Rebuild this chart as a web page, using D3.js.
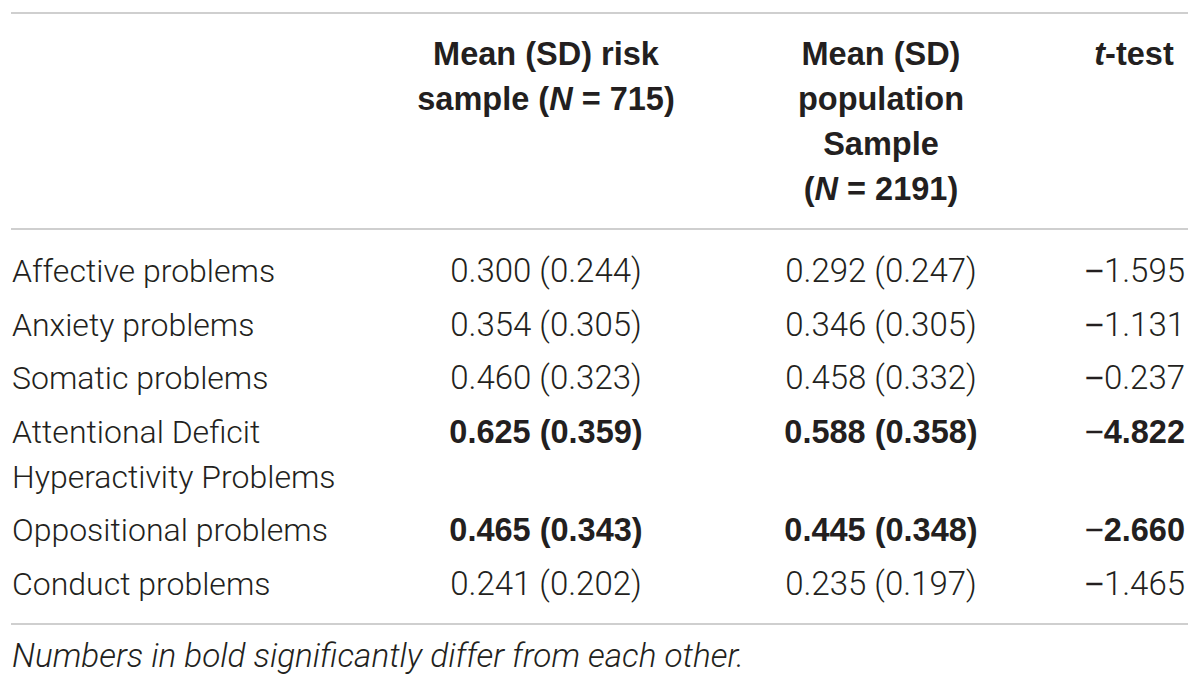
<!DOCTYPE html>
<html>
<head>
<meta charset="utf-8">
<script src="https://cdn.jsdelivr.net/npm/d3@7"></script>
<style>
  body { margin: 0; background: #fff; }
  svg { display: block; }
</style>
</head>
<body>
<svg id="table" width="1200" height="687"></svg>
<script>
// table data
const rowLabels = [
  ['Affective problems'],
  ['Anxiety problems'],
  ['Somatic problems'],
  ['Attentional Deficit', 'Hyperactivity Problems'],
  ['Oppositional problems'],
  ['Conduct problems'],
];
const riskMean = [0.300, 0.354, 0.460, 0.625, 0.465, 0.241];
const riskSD = [0.244, 0.305, 0.323, 0.359, 0.343, 0.202];
const popMean = [0.292, 0.346, 0.458, 0.588, 0.445, 0.235];
const popSD = [0.247, 0.305, 0.332, 0.358, 0.348, 0.197];
const tValues = [-1.595, -1.131, -0.237, -4.822, -2.660, -1.465];
const significant = [false, false, false, true, true, false];

// header lines, *...* marks italic
const headRisk = ['Mean (SD) risk', 'sample (*N* = 715)'];
const headPop = ['Mean (SD)', 'population', 'Sample', '(*N* = 2191)'];
const headT = ['*t*-test'];
const footnote = 'Numbers in bold significantly differ from each other.';

const lightFont = "Roboto, 'Liberation Sans', sans-serif";
const boldFont = "'Liberation Sans', Arial, sans-serif";
const labelSize = 32;
const numSize = 33;
const boldSize = 32.5;
const ink = '#231f20';

const svg = d3.select('svg#table');

// column positions
const colX = d3.scaleOrdinal()
  .domain(['label', 'risk', 'pop', 't', 'tHead'])
  .range([12, 546, 881, 1185, 1134]);

// rows: baseline from row index plus wrapped lines above it
const lineStep = 45;
const extraBefore = rowLabels.map((r, i) => d3.sum(rowLabels.slice(0, i), (d) => d.length - 1));
const rowY = d3.scaleLinear().domain([0, 1]).range([282, 335.5]);
const baseline = (i) => rowY(i) + extraBefore[i] * lineStep;

// rules
const rules = [13, 229, 624];
svg.selectAll('line.rule')
  .data(rules)
  .enter()
  .append('line')
  .attr('class', 'rule')
  .attr('x1', 11)
  .attr('x2', 1188)
  .attr('y1', (d) => d)
  .attr('y2', (d) => d)
  .attr('stroke', '#cfcfcf')
  .attr('stroke-width', 2);

// write a string with *italic* pieces as tspans
function richText(sel, str) {
  str.split('*').forEach((part, k) => {
    if (!part) return;
    sel.append('tspan')
      .attr('font-style', k % 2 ? 'italic' : null)
      .text(part);
  });
}

function header(lines, x) {
  lines.forEach((ln, k) => {
    const t = svg.append('text')
      .attr('x', x)
      .attr('y', 65 + k * lineStep)
      .attr('text-anchor', 'middle')
      .attr('font-family', boldFont)
      .attr('font-weight', 'bold')
      .attr('font-size', boldSize)
      .attr('fill', ink);
    richText(t, ln);
  });
}
header(headRisk, colX('risk'));
header(headPop, colX('pop'));
header(headT, colX('tHead'));

// row labels
rowLabels.forEach((lines, i) => {
  lines.forEach((ln, k) => {
    svg.append('text')
      .attr('x', colX('label'))
      .attr('y', baseline(i) + k * lineStep)
      .attr('font-family', lightFont)
      .attr('font-weight', 300)
      .attr('font-size', labelSize)
      .attr('fill', ink)
      .text(ln);
  });
});

const f3 = d3.format('.3f');
const cellFont = (i) => (significant[i] ? boldFont : lightFont);
const cellWeight = (i) => (significant[i] ? 'bold' : 300);
const cellSize = (i) => (significant[i] ? boldSize : numSize);

function meanCol(means, sds, x) {
  svg.append('g')
    .selectAll('text')
    .data(means)
    .enter()
    .append('text')
    .attr('x', x)
    .attr('y', (d, i) => baseline(i))
    .attr('text-anchor', 'middle')
    .attr('font-family', (d, i) => cellFont(i))
    .attr('font-weight', (d, i) => cellWeight(i))
    .attr('font-size', (d, i) => cellSize(i))
    .attr('fill', ink)
    .text((d, i) => `${f3(d)} (${f3(sds[i])})`);
}
meanCol(riskMean, riskSD, colX('risk'));
meanCol(popMean, popSD, colX('pop'));

// t values, minus sign stays thin
const tText = svg.append('g')
  .selectAll('text')
  .data(tValues)
  .enter()
  .append('text')
  .attr('x', colX('t'))
  .attr('y', (d, i) => baseline(i))
  .attr('text-anchor', 'end')
  .attr('fill', ink);
tText.append('tspan')
  .attr('font-family', "'Liberation Sans', sans-serif")
  .attr('font-weight', 'normal')
  .attr('font-size', numSize)
  .text((d) => (d < 0 ? '\u2212' : ''));
tText.append('tspan')
  .attr('font-family', (d, i) => cellFont(i))
  .attr('font-weight', (d, i) => cellWeight(i))
  .attr('font-size', (d, i) => cellSize(i))
  .text((d) => f3(Math.abs(d)));

// footnote
svg.append('text')
  .attr('x', 12)
  .attr('y', 667)
  .attr('font-family', lightFont)
  .attr('font-weight', 300)
  .attr('font-style', 'italic')
  .attr('font-size', 33.3)
  .attr('fill', ink)
  .text(footnote);
</script>
</body>
</html>
